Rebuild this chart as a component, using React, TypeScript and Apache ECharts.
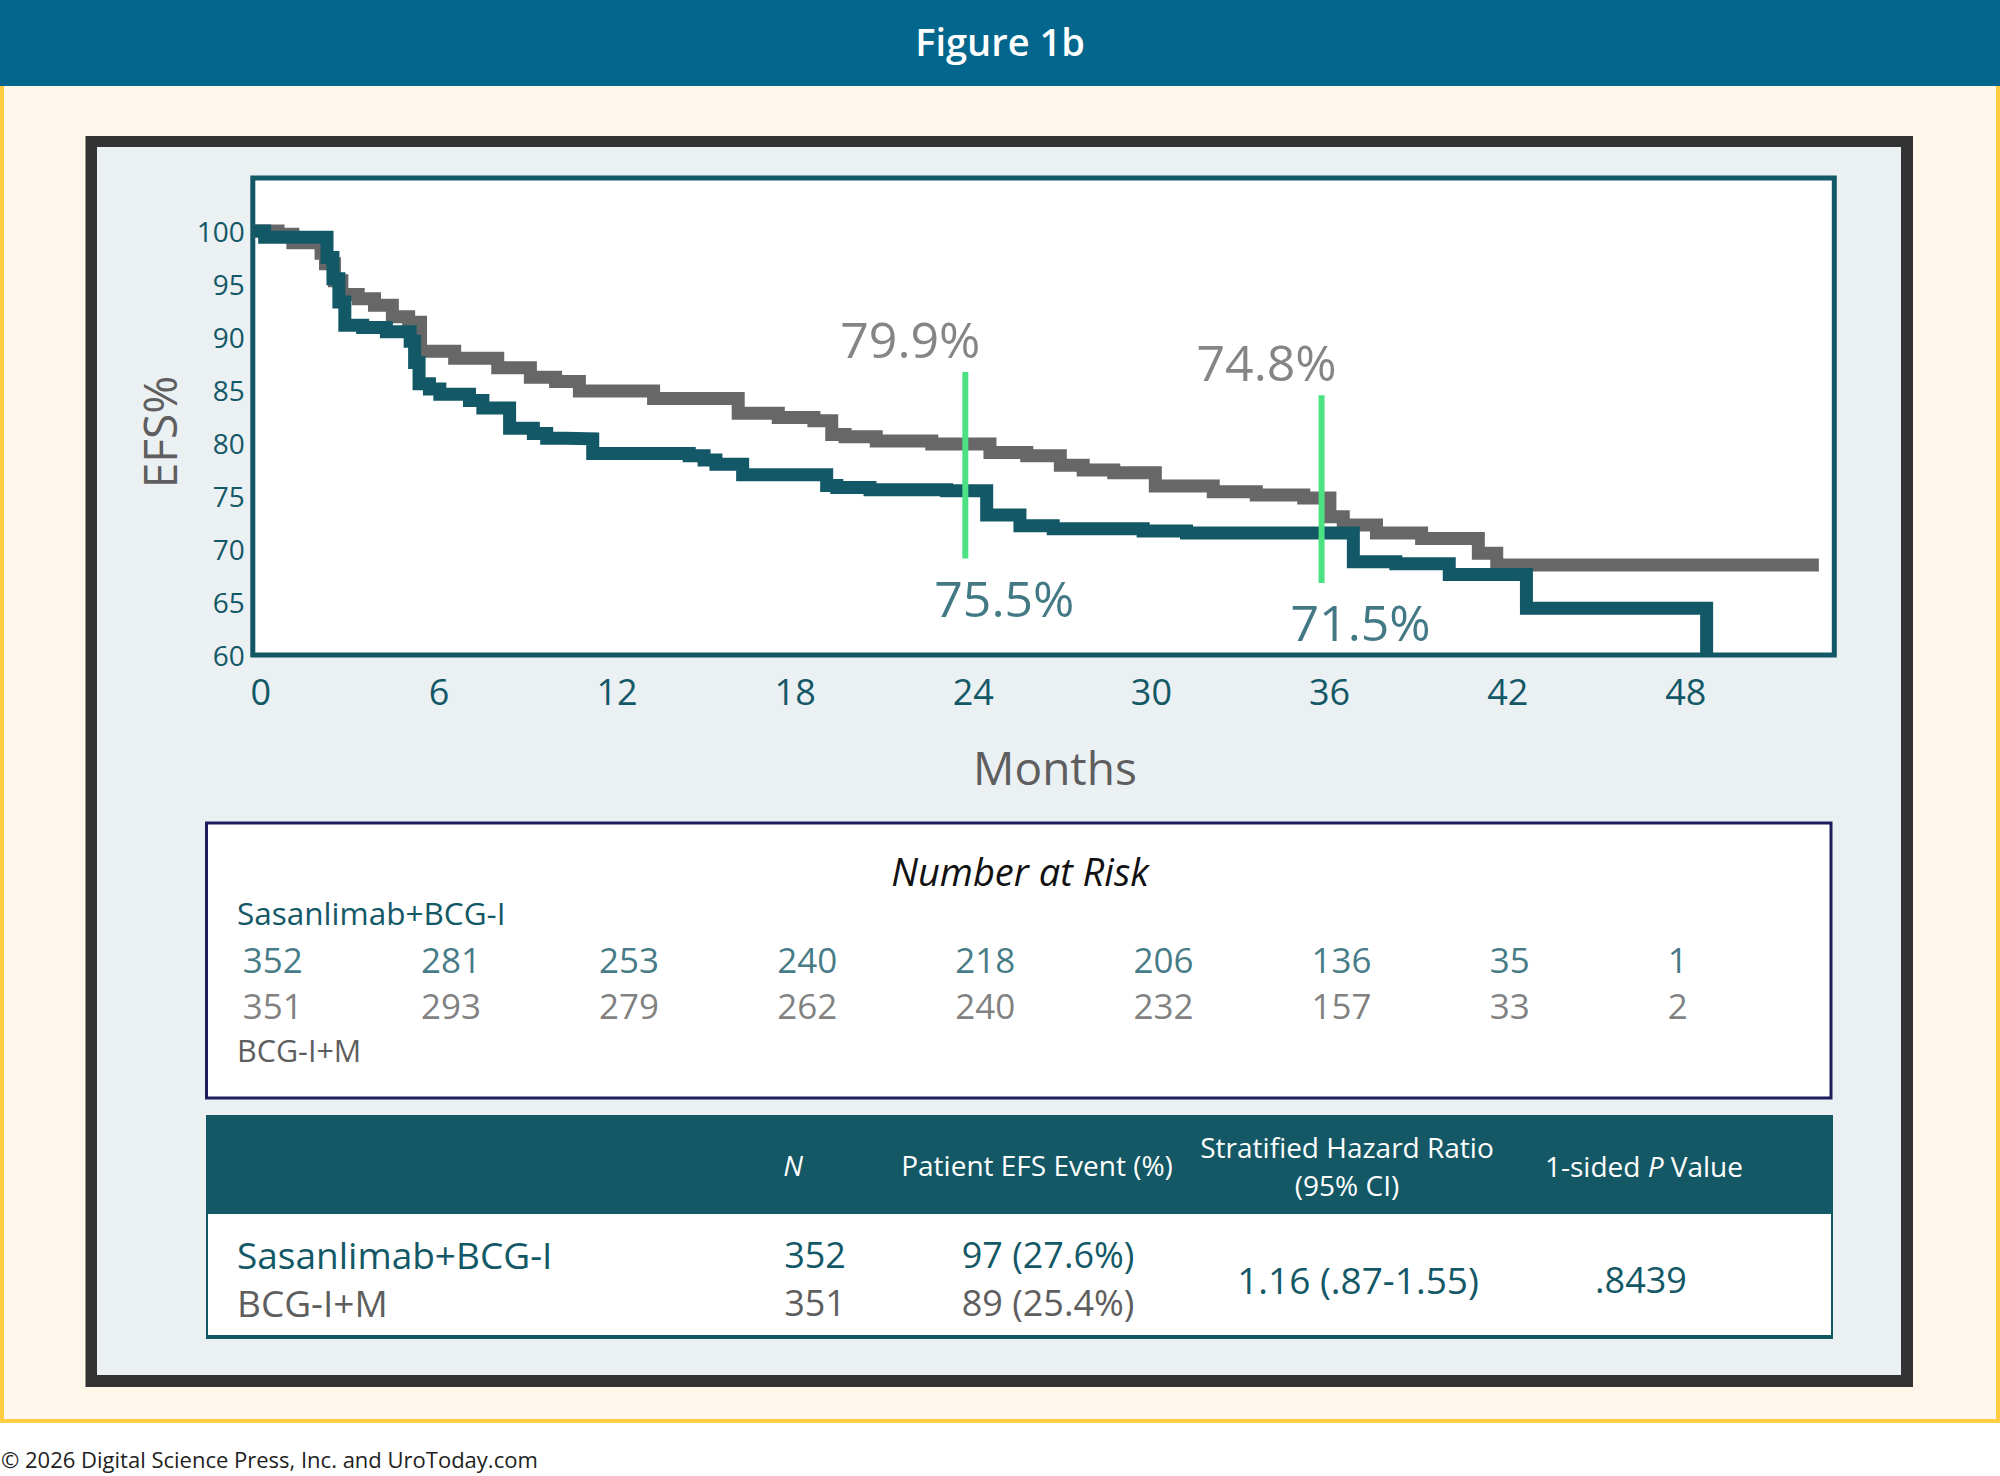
import React, { useEffect, useRef } from 'react';
import * as echarts from 'echarts';

const FONT = '"Open Sans", "Noto Sans", sans-serif';
const TEAL = '#135866';
const GREY_LINE = '#676767';
const GREY_TEXT = '#5e5e5e';
const GREEN = '#4ce283';

// Kaplan–Meier event-free survival steps: [month, EFS %]
const bcgMonths = [0, 0.85, 1.35, 2.3, 2.45, 2.75, 3.0, 3.55, 4.1, 4.7, 5.25, 5.65, 6.8, 8.25, 9.35, 10.2, 11.0, 13.5, 16.35, 17.7, 18.9, 19.5, 19.95, 21.0, 22.87, 24.83, 26.07, 27.2, 27.97, 29.0, 30.4, 32.35, 33.8, 35.4, 36.28, 36.73, 37.85, 39.37, 41.28, 41.9, 52.75];
const bcgEfs = [100, 99.7, 98.9, 97.9, 96.9, 95.3, 94.0, 93.6, 93.0, 91.9, 91.4, 88.65, 88.0, 87.1, 86.2, 85.8, 84.9, 84.2, 82.8, 82.4, 82.1, 80.8, 80.6, 80.2, 79.9, 79.1, 78.8, 77.9, 77.45, 77.2, 75.95, 75.4, 75.1, 74.8, 73.05, 72.26, 71.5, 71.0, 69.6, 68.5, 68.5];

const sasanMonths = [0, 0.4, 2.5, 2.7, 2.9, 3.1, 3.7, 4.5, 5.3, 5.45, 5.6, 5.95, 6.3, 7.3, 7.75, 8.65, 9.45, 9.9, 10.5, 11.45, 14.7, 15.2, 15.6, 16.5, 19.33, 19.67, 20.79, 23.37, 24.72, 25.84, 26.96, 29.99, 31.45, 37.07, 38.5, 40.3, 42.9, 48.97];
const sasanEfs = [100, 99.4, 97.5, 95.5, 93.3, 91.1, 90.9, 90.5, 89.6, 87.6, 85.6, 85.1, 84.6, 84.0, 83.3, 81.4, 80.9, 80.45, 80.4, 79.0, 78.8, 78.4, 78.0, 77.0, 76.0, 75.8, 75.6, 75.5, 73.2, 72.2, 71.9, 71.7, 71.5, 68.8, 68.6, 67.6, 64.4, 60];

// Landmark estimates at 24 and 36 months
const landmarkMonths = [24, 36];
const landmarkSasan = [75.5, 71.5];
const landmarkBcg = [79.9, 74.8];
const landmarkLineTop = [86.7, 84.5];
const landmarkLineBottom = [69.1, 66.8];

// Number at risk
const riskMonths = [0, 6, 12, 18, 24, 30, 36, 42, 48];
const riskSasan = [352, 281, 253, 240, 218, 206, 136, 35, 1];
const riskBcg = [351, 293, 279, 262, 240, 232, 157, 33, 2];

// Summary table
const armNames = ['Sasanlimab+BCG-I', 'BCG-I+M'];
const armN = [352, 351];
const armEvents = [97, 89];
const armEventPct = [27.6, 25.4];
const hazardRatio = '1.16 (.87-1.55)';
const pValue = '.8439';

const X_MAX = 53.27;
const PLOT = { left: 252.8, top: 178, width: 1581.5, height: 477 };

const zip = (xs: number[], ys: number[]) => xs.map((x, i) => [x, ys[i]]);

type TextOpts = {
  fill?: string;
  size?: number;
  weight?: string | number;
  italic?: boolean;
  align?: 'left' | 'center' | 'right';
  rotation?: number;
  rich?: Record<string, any>;
};

function text(str: string, x: number, y: number, o: TextOpts = {}) {
  const align = o.align || 'left';
  return {
    type: 'text',
    z: 10,
    x,
    y,
    rotation: o.rotation || 0,
    silent: true,
    style: {
      text: str,
      fill: o.fill || '#000',
      fontSize: o.size || 28,
      fontFamily: FONT,
      fontWeight: o.weight || 'normal',
      fontStyle: o.italic ? 'italic' : 'normal',
      align,
      verticalAlign: 'middle',
      textAlign: align,
      textVerticalAlign: 'middle',
      rich: o.rich,
    },
  };
}

function rect(x: number, y: number, w: number, h: number, style: Record<string, any>) {
  return { type: 'rect', z: -10, silent: true, shape: { x, y, width: w, height: h }, style };
}

function buildOption() {
  const background = [
    rect(2, 80, 1996, 1341, { fill: '#fff8ea', stroke: '#ffcc44', lineWidth: 4 }),
    rect(0, 0, 2000, 86, { fill: '#03668d' }),
    rect(85.5, 136, 1827.5, 1251, { fill: '#333333' }),
    rect(97, 147, 1804, 1228, { fill: '#ebf0f3' }),
    rect(206.5, 823, 1624.5, 275, { fill: '#ffffff', stroke: '#201d5e', lineWidth: 3 }),
    rect(206, 1115, 1627, 98, { fill: '#145866' }),
    rect(207, 1213, 1625, 123, { fill: '#ffffff', stroke: '#145866', lineWidth: 2 }),
    rect(206, 1335, 1627, 4, { fill: '#145866' }),
  ];

  const rowY = [1254, 1302];
  const rowColor = [TEAL, GREY_TEXT];

  const labels: any[] = [
    text('Figure 1b', 1000, 41, { fill: '#ffffff', size: 38, weight: 600, align: 'center' }),
    text('EFS%', 159, 432, { fill: GREY_TEXT, size: 46, align: 'center', rotation: Math.PI / 2 }),
    text('Months', 1055, 767, { fill: GREY_TEXT, size: 46, align: 'center' }),
    text('Number at Risk', 1020, 871, { fill: '#111111', size: 38, italic: true, align: 'center' }),
    text(armNames[0], 237, 912, { fill: TEAL, size: 31.5 }),
    text(armNames[1], 237, 1050, { fill: GREY_TEXT, size: 30.5 }),
    // table header
    text('N', 793, 1165, { fill: '#ffffff', size: 28, italic: true, align: 'center' }),
    text('Patient EFS Event (%)', 1037, 1165, { fill: '#ffffff', size: 28, align: 'center' }),
    text('Stratified Hazard Ratio', 1347, 1147, { fill: '#ffffff', size: 28, align: 'center' }),
    text('(95% CI)', 1347, 1185, { fill: '#ffffff', size: 28, align: 'center' }),
    text('{a|1-sided }{i|P}{a| Value}', 1644, 1166, {
      fill: '#ffffff',
      size: 28,
      align: 'center',
      rich: {
        a: { fill: '#ffffff', fontSize: 28, fontFamily: FONT },
        i: { fill: '#ffffff', fontSize: 28, fontFamily: FONT, fontStyle: 'italic' },
      },
    }),
    text(hazardRatio, 1358, 1279, { fill: TEAL, size: 37, align: 'center' }),
    text(pValue, 1641, 1279, { fill: TEAL, size: 36, align: 'center' }),
    text('© 2026 Digital Science Press, Inc. and UroToday.com', 1, 1459, { fill: '#222222', size: 22 }),
  ];
  armNames.forEach((name, i) => {
    labels.push(text(name, 237, rowY[i], { fill: rowColor[i], size: 37 }));
    labels.push(text(String(armN[i]), 815, rowY[i], { fill: rowColor[i], size: 36, align: 'center' }));
    labels.push(
      text(`${armEvents[i]} (${armEventPct[i].toFixed(1)}%)`, 1048, rowY[i], {
        fill: rowColor[i],
        size: 36,
        align: 'center',
      })
    );
  });

  const invisible = { color: 'rgba(0,0,0,0)' };

  const landmarkLines = landmarkMonths.map((m, i) => ({
    type: 'line',
    xAxisIndex: 0,
    yAxisIndex: 0,
    z: 4,
    symbol: 'none',
    silent: true,
    data: [
      [m, landmarkLineTop[i]],
      [m, landmarkLineBottom[i]],
    ],
    lineStyle: { color: GREEN, width: 6, cap: 'butt' },
  }));

  const valueLabel = (color: string, offset: number[]) => ({
    show: true,
    position: 'inside',
    offset,
    formatter: (p: any) => `${p.value[2]}%`,
    color,
    fontSize: 50,
    fontFamily: FONT,
  });

  const riskLabel = (color: string) => ({
    show: true,
    position: 'inside',
    align: 'left',
    verticalAlign: 'middle',
    offset: [-10, 0],
    formatter: (p: any) => String(p.value[2]),
    color,
    fontSize: 35,
    lineHeight: 35,
    fontFamily: FONT,
  });

  return {
    animation: false,
    backgroundColor: '#ffffff',
    textStyle: { fontFamily: FONT },
    grid: [
      {
        ...PLOT,
        show: true,
        backgroundColor: '#ffffff',
        borderColor: TEAL,
        borderWidth: 5,
      },
      { left: PLOT.left, width: PLOT.width, top: 959, height: 46, show: false },
    ],
    xAxis: [
      {
        type: 'value',
        gridIndex: 0,
        min: 0,
        max: X_MAX,
        interval: 6,
        axisLine: { show: false },
        axisTick: { show: false },
        splitLine: { show: false },
        axisLabel: {
          color: TEAL,
          fontSize: 36,
          fontFamily: FONT,
          margin: 18,
          padding: [0, 0, 0, 16],
          showMaxLabel: false,
        },
      },
      { type: 'value', gridIndex: 1, min: 0, max: X_MAX, show: false },
    ],
    yAxis: [
      {
        type: 'value',
        gridIndex: 0,
        min: 60,
        max: 105,
        interval: 5,
        axisLine: { show: false },
        axisTick: { show: false },
        splitLine: { show: false },
        axisLabel: {
          color: TEAL,
          fontSize: 28,
          fontFamily: FONT,
          margin: 8,
          showMaxLabel: false,
        },
      },
      { type: 'value', gridIndex: 1, min: 0, max: 1, show: false },
    ],
    series: [
      {
        name: 'BCG-I+M',
        type: 'line',
        step: 'end',
        xAxisIndex: 0,
        yAxisIndex: 0,
        z: 2,
        symbol: 'none',
        silent: true,
        data: zip(bcgMonths, bcgEfs),
        lineStyle: { color: GREY_LINE, width: 13, join: 'miter', cap: 'butt' },
      },
      {
        name: 'Sasanlimab+BCG-I',
        type: 'line',
        step: 'end',
        xAxisIndex: 0,
        yAxisIndex: 0,
        z: 3,
        symbol: 'none',
        silent: true,
        data: zip(sasanMonths, sasanEfs),
        lineStyle: { color: TEAL, width: 13, join: 'miter', cap: 'butt' },
      },
      ...landmarkLines,
      {
        type: 'scatter',
        xAxisIndex: 0,
        yAxisIndex: 0,
        z: 5,
        symbolSize: 1,
        silent: true,
        itemStyle: invisible,
        data: landmarkMonths.map((m, i) => [m, landmarkLineTop[i], landmarkBcg[i]]),
        label: valueLabel('#666666', [-55, -33]),
      },
      {
        type: 'scatter',
        xAxisIndex: 0,
        yAxisIndex: 0,
        z: 5,
        symbolSize: 1,
        silent: true,
        itemStyle: invisible,
        data: landmarkMonths.map((m, i) => [m, landmarkLineBottom[i], landmarkSasan[i]]),
        label: valueLabel(TEAL, [39, 39]),
      },
      {
        type: 'scatter',
        xAxisIndex: 1,
        yAxisIndex: 1,
        symbolSize: 1,
        silent: true,
        itemStyle: invisible,
        data: riskMonths.map((m, i) => [m, 1, riskSasan[i]]),
        label: riskLabel(TEAL),
      },
      {
        type: 'scatter',
        xAxisIndex: 1,
        yAxisIndex: 1,
        symbolSize: 1,
        silent: true,
        itemStyle: invisible,
        data: riskMonths.map((m, i) => [m, 0, riskBcg[i]]),
        label: riskLabel(GREY_TEXT),
      },
    ],
    graphic: { elements: [...background, ...labels] },
  };
}

export default function App() {
  const ref = useRef<HTMLDivElement>(null);
  useEffect(() => {
    const el = ref.current;
    if (!el) return;
    const chart = echarts.init(el, undefined, { renderer: 'svg' });
    chart.setOption(buildOption() as any);
    return () => chart.dispose();
  }, []);
  return (
    <div
      ref={ref}
      style={{ position: 'absolute', left: 0, top: 0, width: 2000, height: 1476 }}
    />
  );
}
